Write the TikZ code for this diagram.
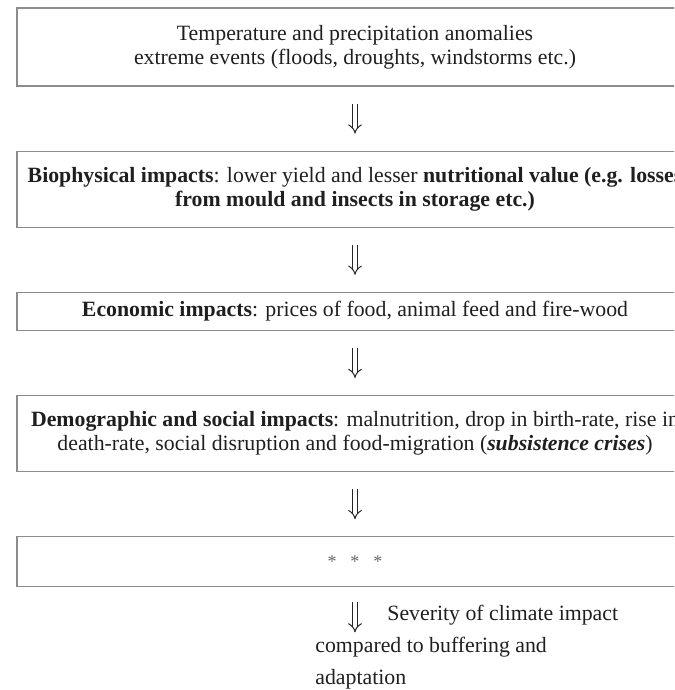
\documentclass[tikz,border=0pt]{standalone}
\usepackage{fontspec}
\setmainfont{Liberation Serif}
\usetikzlibrary{positioning,arrows.meta}
\tikzset{%
  every stage/.style={draw=black!45,line width=0.6pt,minimum width=338pt,align=center,text=black!88,font=\fontsize{10.9}{12}\selectfont},
  stage note/.style={text=black!88,font=\fontsize{10.9}{16}\selectfont,inner sep=0pt},
}

\begin{document}
\begin{tikzpicture}[
            stage/.style={every stage},
            flow/.style={
              draw=black!85,
              double,
              double distance=1.9pt,
              line width=0.5pt,
              -{Implies},
              shorten <=8.5pt,
              shorten >=8.5pt
              },
            node distance=32pt
            ]
            \useasboundingbox (0,0) rectangle (337pt,-345pt);
            \clip (0,0) rectangle (337pt,-345pt);

            \node[stage,minimum height=39pt] (climate) at (177.5pt,-23.5pt)
              {Temperature and precipitation anomalies\\extreme events (floods, droughts, windstorms etc.)};
            \node[stage,minimum height=38pt,below=of climate] (bio)
              {\textbf{Biophysical impacts}: lower yield and lesser \textbf{nutritional value (e.g. losses}\\
               \textbf{from mould and insects in storage etc.)}};
            \node[stage,minimum height=19pt,below=of bio] (econ)
              {\textbf{Economic impacts}: prices of food, animal feed and fire-wood};
            \node[stage,minimum height=38pt,below=of econ] (demo)
              {\textbf{Demographic and social impacts}: malnutrition, drop in birth-rate, rise in\\
               death-rate, social disruption and food-migration (\textbf{\textit{subsistence crises}})};
            \node[stage,minimum height=25pt,below=of demo] (more)
              {\textcolor{black!60}{\small*\hspace{7pt}*\hspace{7pt}*}};
            \coordinate[below=22.5pt of more] (severe);

            \foreach \a/\b in {climate/bio,bio/econ,econ/demo,demo/more}
              \draw[flow] (\a) -- (\b);
            \draw[flow,shorten <=7.5pt,shorten >=0pt] (more) -- (severe);

            \node[stage note,anchor=west] (sev) at ([xshift=16pt,yshift=8.5pt]severe)
              {Severity of climate impact};
            \node[stage note,anchor=north west,align=left] (comp) at ([xshift=-20pt,yshift=-2pt]severe)
              {compared to buffering and\\adaptation};
        \end{tikzpicture}
\end{document}
